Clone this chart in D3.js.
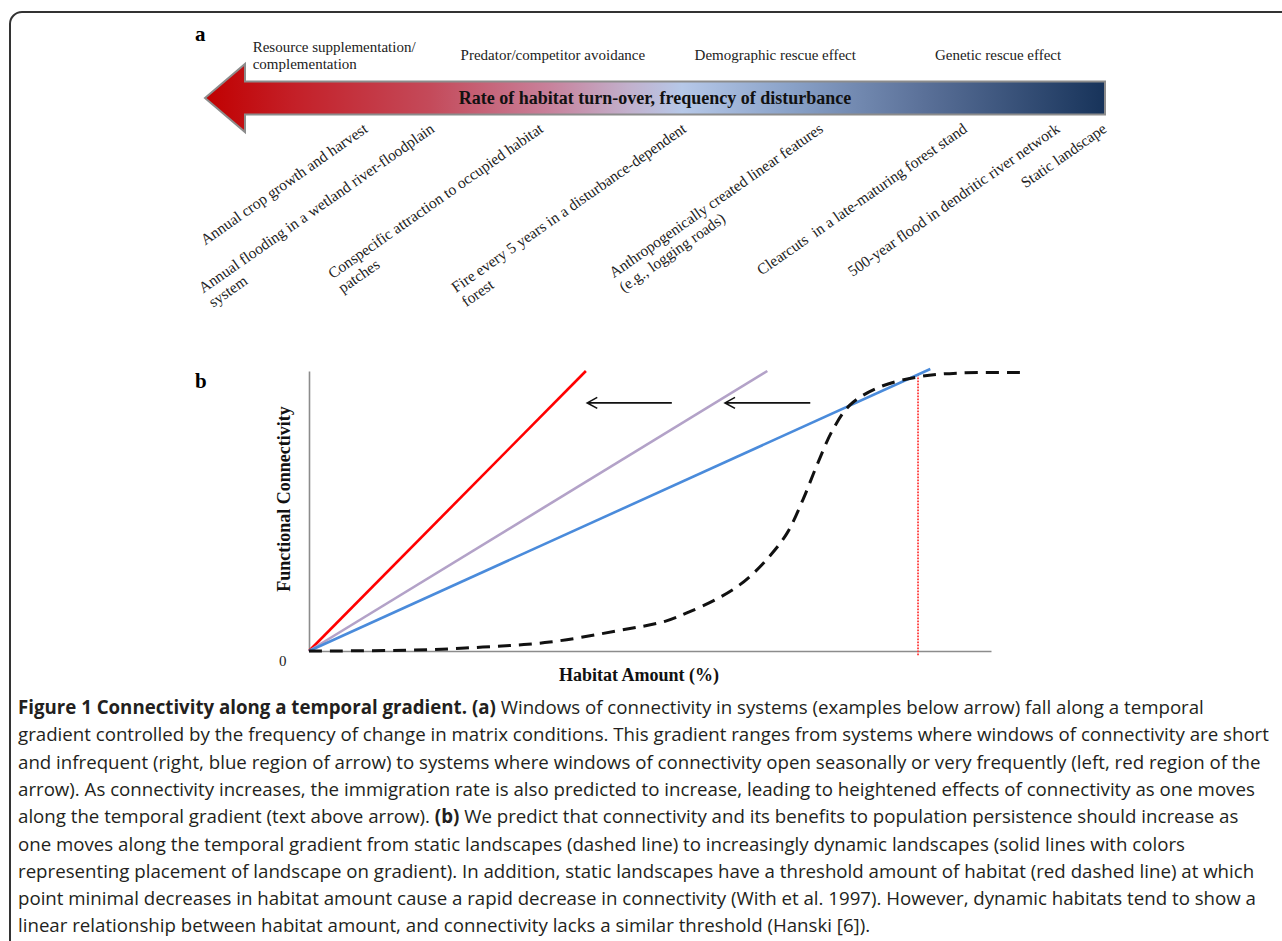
<!DOCTYPE html>
<html>
<head>
<meta charset="utf-8">
<script src="https://cdn.jsdelivr.net/npm/d3@7"></script>
<style>
  body { margin: 0; background: #fff; }
</style>
</head>
<body>
<script>
"use strict";

// panel a: position of each item along the temporal gradient (0 = constant turn-over, 100 = static)
var effectNames = [
  "Resource supplementation/\ncomplementation",
  "Predator/competitor avoidance",
  "Demographic rescue effect",
  "Genetic rescue effect"
];
var effectGradient = [5.3, 28.4, 54.4, 81.1];
var exampleNames = [
  "Annual crop growth and harvest",
  "Annual flooding in a wetland river-floodplain\nsystem",
  "Conspecific attraction to occupied habitat\npatches",
  "Fire every 5 years in a disturbance-dependent\nforest",
  "Anthropogenically created linear features\n(e.g., logging roads)",
  "Clearcuts  in a late-maturing forest stand",
  "500-year flood in dendritic river network",
  "Static landscape"
];
var exampleGradient = [18.2, 25.6, 37.7, 53.6, 68.8, 84.8, 95.1, 100.3];
var gradientTitle = "Rate of habitat turn-over, frequency of disturbance";

// panel b
var dynamicNames = ["frequent", "intermediate", "infrequent"];
var dynamicHabitat = [40.6, 67.2, 91.1];
var dynamicConnectivity = [100, 100, 100.7];
var staticHabitat = [0, 15, 25.5, 35.3, 45.2, 52.2, 55.4, 59.8, 62.8, 65.1, 67.6, 70.1, 72.4, 74.5, 76.8, 79.3, 83.3, 89.3, 95.5, 105.3];
var staticConnectivity = [0, 0.3, 1.4, 3.2, 7.2, 10.6, 13.6, 18.6, 23, 27.6, 34, 42.1, 53.9, 66.5, 79, 87.8, 93.9, 97.9, 99.3, 99.4];
var thresholdHabitat = 89.3;
var thresholdConnectivity = [-1.5, 98.6];
var shiftFrom = [53.2, 73.5];
var shiftTo = [40.8, 61.0];
var shiftLevel = 88.6;
var axisTitles = ["Habitat Amount (%)", "Functional Connectivity"];
var originLabel = "0";

var captionLines = [
  [["Figure 1 Connectivity along a temporal gradient.", 1], [" ", 0], ["(a)", 1], [" Windows of connectivity in systems (examples below arrow) fall along a temporal", 0]],
  [["gradient controlled by the frequency of change in matrix conditions. This gradient ranges from systems where windows of connectivity are short", 0]],
  [["and infrequent (right, blue region of arrow) to systems where windows of connectivity open seasonally or very frequently (left, red region of the", 0]],
  [["arrow). As connectivity increases, the immigration rate is also predicted to increase, leading to heightened effects of connectivity as one moves", 0]],
  [["along the temporal gradient (text above arrow). ", 0], ["(b)", 1], [" We predict that connectivity and its benefits to population persistence should increase as", 0]],
  [["one moves along the temporal gradient from static landscapes (dashed line) to increasingly dynamic landscapes (solid lines with colors", 0]],
  [["representing placement of landscape on gradient). In addition, static landscapes have a threshold amount of habitat (red dashed line) at which", 0]],
  [["point minimal decreases in habitat amount cause a rapid decrease in connectivity (With et al. 1997). However, dynamic habitats tend to show a", 0]],
  [["linear relationship between habitat amount, and connectivity lacks a similar threshold (Hanski [6]).", 0]]
];

// styles
var gradientStops = [0, 0.1, 0.25, 0.38, 0.47, 0.53, 0.65, 0.8, 1];
var gradientColors = ["#c00000", "#c42028", "#c44a5a", "#c8809a", "#c2b0cc", "#b6c8e8", "#8aa2c8", "#5a7098", "#17335a"];
var dynamicColors = ["#ff0000", "#b3a2c8", "#4a8bdb"];
var serif = "'Liberation Serif', 'Times New Roman', serif";

(function (root) {
  var d3 = root.d3, W = 1282, H = 941;

  var svg = d3.select("body").append("svg")
    .attr("width", W).attr("height", H)
    .style("display", "block");

  // figure frame, rounded top-left corner only
  svg.append("path")
    .attr("d", "M10," + H + "V24A12,12 0 0 1 22,12H" + W)
    .attr("fill", "none").attr("stroke", "#333").attr("stroke-width", 2);

  // ---- panel a ----
  var gx = d3.scaleLinear().domain([0, 100]).range([205, 1105]);
  var cy = 98, bodyHalf = 16.5, headHalf = 34, headLen = 40;

  svg.append("text").text("a")
    .attr("x", 195).attr("y", 41)
    .attr("font-family", serif).attr("font-weight", "bold").attr("font-size", 21);

  var grad = svg.append("defs").append("linearGradient")
    .attr("id", "turnover").attr("gradientUnits", "userSpaceOnUse")
    .attr("x1", gx(0)).attr("x2", gx(100)).attr("y1", 0).attr("y2", 0);
  grad.selectAll("stop").data(gradientStops).join("stop")
    .attr("offset", function (d) { return d; })
    .attr("stop-color", function (d, i) { return gradientColors[i]; });

  var tip = gx(0), base = gx(0) + headLen, tail = gx(100);
  svg.append("path")
    .attr("d", d3.line()([
      [tip, cy], [base, cy - headHalf], [base, cy - bodyHalf], [tail, cy - bodyHalf],
      [tail, cy + bodyHalf], [base, cy + bodyHalf], [base, cy + headHalf]
    ]) + "Z")
    .attr("fill", "url(#turnover)")
    .attr("stroke", "#8c8c8c").attr("stroke-width", 2);

  svg.append("text").text(gradientTitle)
    .attr("x", 655).attr("y", cy + 6)
    .attr("text-anchor", "middle")
    .attr("font-family", serif).attr("font-weight", "bold").attr("font-size", 18)
    .attr("fill", "#111");

  effectNames.forEach(function (name, i) {
    var lines = name.split("\n");
    var t = svg.append("text")
      .attr("font-family", serif).attr("font-size", 15).attr("fill", "#222");
    lines.forEach(function (line, j) {
      t.append("tspan")
        .attr("x", gx(effectGradient[i]))
        .attr("y", (lines.length > 1 ? 52 : 60) + j * 17)
        .text(line);
    });
  });

  exampleNames.forEach(function (name, i) {
    var lines = name.split("\n");
    var g = svg.append("g")
      .attr("transform", "translate(" + gx(exampleGradient[i]) + ",131) rotate(-35)")
      .attr("font-family", serif).attr("font-size", 15.5).attr("fill", "#222");
    var first = g.append("text").attr("xml:space", "preserve")
      .attr("text-anchor", "end").text(lines[0]);
    if (lines.length > 1) {
      g.append("text")
        .attr("x", -first.node().getComputedTextLength())
        .attr("y", 17.5)
        .text(lines[1]);
    }
  });

  // ---- panel b ----
  var x = d3.scaleLinear().domain([0, 100]).range([309, 991]);
  var y = d3.scaleLinear().domain([0, 100]).range([651, 371]);

  svg.append("text").text("b")
    .attr("x", 195).attr("y", 388)
    .attr("font-family", serif).attr("font-weight", "bold").attr("font-size", 21);

  var xAxis = svg.append("g").attr("transform", "translate(0," + y(0) + ")")
    .call(d3.axisBottom(x).tickValues([]).tickSizeOuter(0));
  var yAxis = svg.append("g").attr("transform", "translate(" + x(0) + ",0)")
    .call(d3.axisLeft(y).tickValues([]).tickSizeOuter(0));
  [xAxis, yAxis].forEach(function (a) {
    a.select(".domain").attr("stroke", "#8c8c8c").attr("stroke-width", 1.6);
  });

  svg.append("text").text(originLabel)
    .attr("x", x(0) - 30).attr("y", y(0) + 15)
    .attr("font-family", serif).attr("font-size", 15).attr("fill", "#222");

  svg.append("text").text(axisTitles[0])
    .attr("x", x(48.4)).attr("y", y(0) + 30)
    .attr("text-anchor", "middle")
    .attr("font-family", serif).attr("font-weight", "bold").attr("font-size", 18)
    .attr("fill", "#111");

  svg.append("text").text(axisTitles[1])
    .attr("transform", "translate(" + (x(0) - 19) + "," + y(54.3) + ") rotate(-90)")
    .attr("text-anchor", "middle")
    .attr("font-family", serif).attr("font-weight", "bold").attr("font-size", 18)
    .attr("fill", "#111");

  // threshold of the static landscape
  svg.append("line")
    .attr("x1", x(thresholdHabitat)).attr("x2", x(thresholdHabitat))
    .attr("y1", y(thresholdConnectivity[0])).attr("y2", y(thresholdConnectivity[1]))
    .attr("stroke", "#ff3b3b").attr("stroke-width", 1.8)
    .attr("stroke-dasharray", "1.6,1.4");

  // dynamic landscapes: straight lines from the origin
  svg.selectAll(".dynamic").data(dynamicNames).join("line")
    .attr("class", "dynamic")
    .attr("x1", x(0)).attr("y1", y(0))
    .attr("x2", function (d, i) { return x(dynamicHabitat[i]); })
    .attr("y2", function (d, i) { return y(dynamicConnectivity[i]); })
    .attr("stroke", function (d, i) { return dynamicColors[i]; })
    .attr("stroke-width", 2.6);

  // static landscape: sigmoid
  svg.append("path")
    .datum(d3.zip(staticHabitat, staticConnectivity))
    .attr("d", d3.line()
      .x(function (d) { return x(d[0]); })
      .y(function (d) { return y(d[1]); })
      .curve(d3.curveCatmullRom.alpha(0.5)))
    .attr("fill", "none").attr("stroke", "#111")
    .attr("stroke-width", 3).attr("stroke-dasharray", "13,8");

  // shift arrows
  shiftFrom.forEach(function (from, i) {
    var x0 = x(from), x1 = x(shiftTo[i]), yy = y(shiftLevel);
    svg.append("path")
      .attr("d", "M" + x0 + "," + yy + "H" + x1 +
        "M" + (x1 + 10) + "," + (yy - 5.5) + "L" + x1 + "," + yy + "L" + (x1 + 10) + "," + (yy + 5.5))
      .attr("fill", "none").attr("stroke", "#111").attr("stroke-width", 1.6);
  });

  // ---- caption ----
  var cap = svg.append("g")
    .attr("font-family", "'Open Sans', 'Noto Sans', sans-serif")
    .attr("fill", "#231f20");
  var rows = captionLines.map(function (segs, i) {
    var t = cap.append("text").attr("x", 18).attr("y", 714 + i * 27.3)
      .attr("xml:space", "preserve");
    segs.forEach(function (s) {
      t.append("tspan").attr("font-weight", s[1] ? 700 : 400).text(s[0]);
    });
    return t;
  });
  cap.attr("font-size", 17);
  var widest = d3.max(rows, function (t) { return t.node().getComputedTextLength(); });
  cap.attr("font-size", 17 * 1252 / widest);
}(this));
</script>
</body>
</html>
